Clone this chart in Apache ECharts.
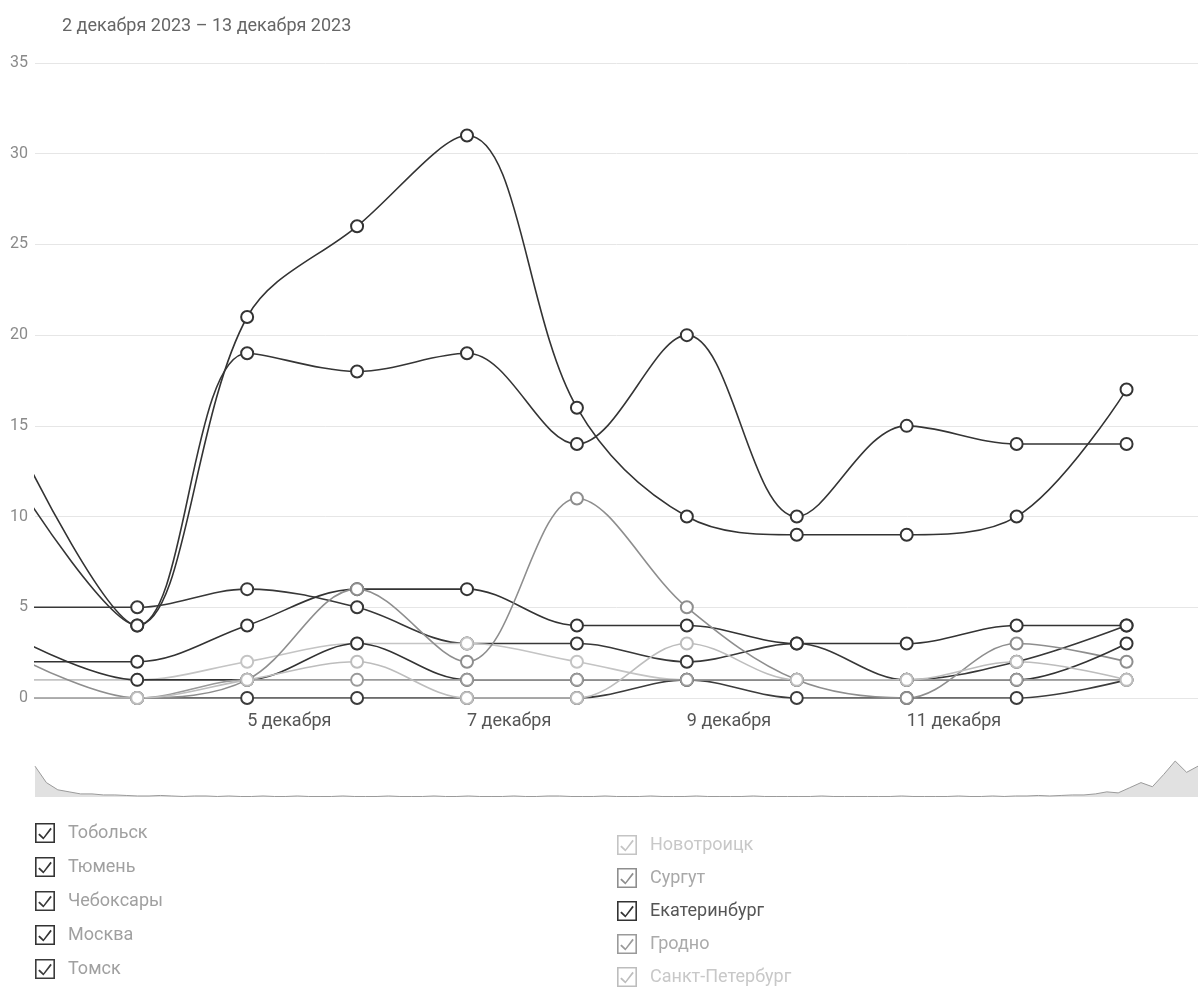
<!DOCTYPE html>
<html><head><meta charset="utf-8">
<script src="https://cdn.jsdelivr.net/npm/echarts@6/dist/echarts.min.js"></script>
<style>html,body{margin:0;padding:0;background:#fff}#c{width:1198px;height:990px}</style>
</head><body><div id="c"></div>
<script>
// days of December 2023
const days = [3, 4, 5, 6, 7, 8, 9, 10, 11, 12, 13];
const tickDays = [5, 7, 9, 11];
const tickLabels = ['5 декабря', '7 декабря', '9 декабря', '11 декабря'];
const yTicks = [0, 5, 10, 15, 20, 25, 30, 35];

const tobolsk      = [13, 4, 21, 26, 31, 16, 10, 9, 9, 10, 17];
const tyumen       = [11, 4, 19, 18, 19, 14, 20, 10, 15, 14, 14];
const cheboksary   = [5, 5, 6, 5, 3, 3, 2, 3, 1, 2, 4];
const moskva       = [2, 2, 4, 6, 6, 4, 4, 3, 3, 4, 4];
const tomsk        = [0, 0, 0, 0, 0, 0, 1, 0, 0, 0, 1];
const novotroitsk  = [1, 1, 2, 3, 3, 2, 1, 1, 1, 1, 1];
const surgut       = [2, 0, 1, 6, 2, 11, 5, 1, 0, 3, 2];
const ekaterinburg = [3, 1, 1, 3, 1, 1, 1, 1, 1, 1, 3];
const grodno       = [0, 0, 1, 1, 1, 1, 1, 1, 1, 1, 1];
const spb          = [0, 0, 1, 2, 0, 0, 3, 1, 1, 2, 1];

const overview = [
  30, 14, 7, 5, 3, 3, 2, 2, 1.5, 1,
  1, 1.5, 1, 0.5, 1, 1, 0.5, 1, 0.5, 0.5,
  1, 0.5, 0.5, 1, 0.5, 0.5, 0.5, 1, 0.5, 0.5,
  0.5, 1, 0.5, 0.5, 0.5, 1, 0.5, 0.5, 1, 0.5,
  0.5, 0.5, 1, 0.5, 0.5, 1, 1, 0.5, 0.5, 0.5,
  1, 0.5, 0.5, 0.5, 1, 0.5, 0.5, 0.5, 1, 0.5,
  0.5, 0.5, 0.5, 1, 0.5, 0.5, 0.5, 0.5, 0.5, 1,
  0.5, 0.5, 0.5, 0.5, 0.5, 0.5, 1, 0.5, 0.5, 0.5,
  0.5, 1, 0.5, 0.5, 1, 0.5, 1, 1, 1.5, 1,
  1.5, 2, 2, 3, 5, 4, 9, 14, 10, 22, 35, 24, 30
];

const seriesDefs = [
  {name: 'Тобольск', vals: tobolsk, color: '#333333'},
  {name: 'Тюмень', vals: tyumen, color: '#353535'},
  {name: 'Чебоксары', vals: cheboksary, color: '#383838'},
  {name: 'Москва', vals: moskva, color: '#333333'},
  {name: 'Томск', vals: tomsk, color: '#3c3c3c'},
  {name: 'Новотроицк', vals: novotroitsk, color: '#c4c4c4'},
  {name: 'Сургут', vals: surgut, color: '#8e8e8e'},
  {name: 'Екатеринбург', vals: ekaterinburg, color: '#333333'},
  {name: 'Гродно', vals: grodno, color: '#9a9a9a'},
  {name: 'Санкт-Петербург', vals: spb, color: '#bdbdbd'}
];
const legendTextColors = ['#a0a0a0','#a0a0a0','#a0a0a0','#a0a0a0','#a0a0a0','#c8c8c8','#a8a8a8','#555555','#aaaaaa','#c8c8c8'];

const checkIcon = 'path://M0,0H20V20H0Z M1.6,1.6V18.4H18.4V1.6Z M4.6,10.4L8.4,14.2L15.4,4.8L16.8,6L8.4,16.6L3.2,11.8Z';

const chart = echarts.init(document.getElementById('c'), null, {renderer: 'canvas'});

const lineSeries = seriesDefs.map(s => ({
  name: s.name,
  type: 'line',
  xAxisIndex: 0, yAxisIndex: 0,
  smooth: 0.35,
  symbol: 'emptyCircle',
  symbolSize: 12,
  showSymbol: true,
  lineStyle: {color: s.color, width: 1.6},
  itemStyle: {color: s.color, borderWidth: 1.6},
  emphasis: {disabled: true},
  data: days.map((d, i) => [d, s.vals[i]])
}));

function legendItems(from, to) {
  return seriesDefs.slice(from, to).map((s, k) => ({
    name: s.name,
    icon: checkIcon,
    itemStyle: {color: s.color, borderWidth: 0},
    textStyle: {color: legendTextColors[from + k]}
  }));
}

chart.setOption({
  animation: false,
  backgroundColor: '#ffffff',
  textStyle: {fontFamily: 'Roboto, "Noto Sans", sans-serif'},
  title: {
    text: '2 декабря 2023 – 13 декабря 2023',
    left: 57, top: 12,
    textStyle: {fontSize: 18, fontWeight: 'normal', color: '#666666', fontFamily: 'Roboto'}
  },
  grid: [
    {left: 35, right: 0, top: 63, bottom: 292, containLabel: false},
    {left: 35, right: 0, top: 760, height: 37}
  ],
  xAxis: [
    {
      type: 'value', gridIndex: 0, min: 3.07, max: 13.65,
      axisLine: {show: false}, axisTick: {show: false}, splitLine: {show: false},
      axisLabel: {
        customValues: tickDays,
        align: 'left', margin: 14, fontSize: 18, color: '#555555',
        formatter: v => tickLabels[tickDays.indexOf(v)]
      }
    },
    {
      type: 'category', gridIndex: 1, boundaryGap: false, show: false,
      data: overview.map((v, i) => i)
    }
  ],
  yAxis: [
    {
      type: 'value', gridIndex: 0, min: yTicks[0], max: yTicks[yTicks.length - 1], interval: 5,
      axisLine: {show: false}, axisTick: {show: false},
      axisLabel: {color: '#8a8a8a', fontSize: 16, margin: 7},
      splitLine: {lineStyle: {color: '#e6e6e6', width: 1}}
    },
    {type: 'value', gridIndex: 1, min: 0, max: 36, show: false}
  ],
  legend: [
    {
      orient: 'vertical', left: 35, top: 823, height: 170, itemWidth: 20, itemHeight: 20, itemGap: 14,
      selectedMode: false, padding: 0,
      textStyle: {fontSize: 18, color: '#a0a0a0', padding: [0, 0, 0, 8]},
      data: legendItems(0, 5)
    },
    {
      orient: 'vertical', left: 617, top: 835, height: 160, itemWidth: 20, itemHeight: 20, itemGap: 13,
      selectedMode: false, padding: 0,
      textStyle: {fontSize: 18, color: '#a0a0a0', padding: [0, 0, 0, 8]},
      data: legendItems(5, 10)
    }
  ],
  series: lineSeries.concat([{
    name: 'overview',
    type: 'line',
    xAxisIndex: 1, yAxisIndex: 1,
    symbol: 'none', silent: true,
    lineStyle: {color: '#9a9a9a', width: 1},
    areaStyle: {color: '#d4d4d4', opacity: 0.7},
    data: overview
  }])
});
</script></body></html>
